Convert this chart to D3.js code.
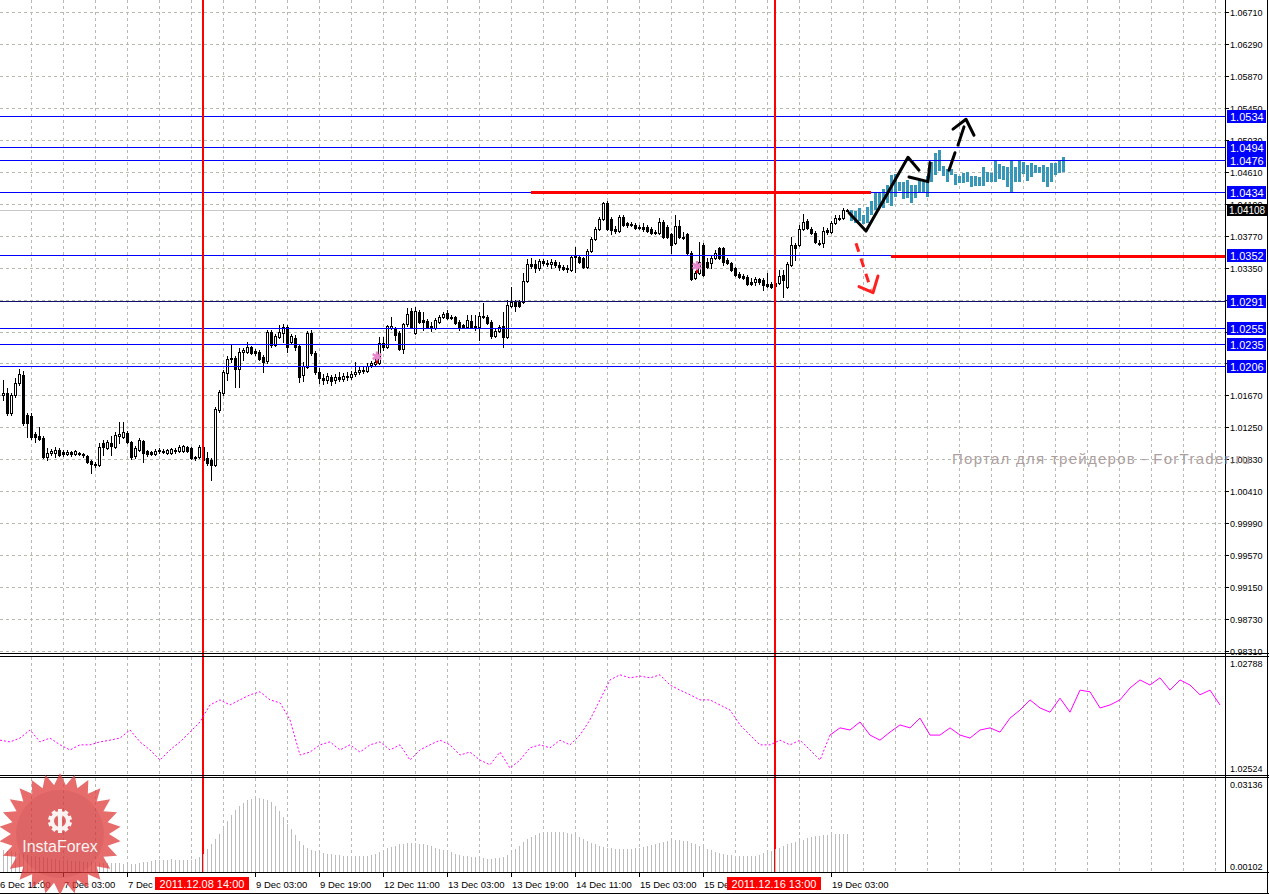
<!DOCTYPE html>
<html><head><meta charset="utf-8">
<script src="https://cdn.jsdelivr.net/npm/d3@7"></script>
<style>body{margin:0;background:#fff;overflow:hidden}svg{display:block}text{font-family:"Liberation Sans",Arial,sans-serif}</style>
</head><body><svg id="c" width="1269" height="894"></svg>
<script>
// ---------------- DATA ----------------
// H1 candles, bar 0 = 6 Dec 12:00
const open = [1.0168,1.0170,1.0144,1.0168,1.0183,1.0194,1.0141,1.0140,1.0116,1.0114,
1.0111,1.0086,1.0091,1.0091,1.0095,1.0093,1.0090,1.0093,1.0090,1.0091,
1.0090,1.0087,1.0081,1.0077,1.0076,1.0105,1.0098,1.0105,1.0099,1.0114,
1.0112,1.0118,1.0106,1.0087,1.0095,1.0107,1.0094,1.0093,1.0090,1.0094,
1.0094,1.0091,1.0091,1.0095,1.0094,1.0094,1.0099,1.0098,1.0085,1.0086,
1.0099,1.0085,1.0082,1.0076,1.0148,1.0170,1.0197,1.0215,1.0216,1.0202,
1.0224,1.0224,1.0231,1.0225,1.0224,1.0218,1.0212,1.0250,1.0233,1.0244,
1.0249,1.0257,1.0237,1.0243,1.0232,1.0194,1.0204,1.0249,1.0223,1.0198,
1.0190,1.0187,1.0191,1.0187,1.0191,1.0189,1.0193,1.0191,1.0195,1.0198,
1.0200,1.0199,1.0207,1.0208,1.0210,1.0236,1.0231,1.0256,1.0256,1.0249,
1.0228,1.0261,1.0278,1.0249,1.0277,1.0266,1.0265,1.0258,1.0256,1.0264,
1.0270,1.0275,1.0270,1.0270,1.0264,1.0259,1.0257,1.0265,1.0257,1.0257,
1.0271,1.0270,1.0264,1.0245,1.0252,1.0258,1.0244,1.0285,1.0290,1.0290,
1.0290,1.0317,1.0340,1.0340,1.0335,1.0344,1.0341,1.0340,1.0342,1.0338,
1.0336,1.0335,1.0332,1.0349,1.0349,1.0348,1.0336,1.0357,1.0373,1.0386,
1.0399,1.0420,1.0399,1.0386,1.0383,1.0402,1.0394,1.0392,1.0391,1.0388,
1.0388,1.0388,1.0386,1.0382,1.0381,1.0395,1.0388,1.0379,1.0367,1.0390,
1.0375,1.0379,1.0354,1.0321,1.0328,1.0365,1.0342,1.0341,1.0348,1.0361,
1.0361,1.0345,1.0341,1.0335,1.0327,1.0324,1.0323,1.0316,1.0316,1.0320,
1.0319,1.0313,1.0313,1.0315,1.0315,1.0325,1.0310,1.0338,1.0365,1.0365,
1.0386,1.0396,1.0386,1.0381,1.0367,1.0367,1.0384,1.0382,1.0394,1.0400,
1.0400,1.0410];
const high = [1.0187,1.0177,1.0170,1.0190,1.0202,1.0199,1.0144,1.0144,1.0119,1.0126,
1.0114,1.0098,1.0097,1.0099,1.0098,1.0095,1.0095,1.0094,1.0095,1.0093,
1.0091,1.0089,1.0082,1.0080,1.0105,1.0108,1.0108,1.0114,1.0119,1.0132,
1.0132,1.0120,1.0107,1.0101,1.0111,1.0108,1.0095,1.0094,1.0097,1.0098,
1.0097,1.0097,1.0098,1.0098,1.0102,1.0102,1.0101,1.0099,1.0087,1.0102,
1.0102,1.0093,1.0085,1.0152,1.0174,1.0200,1.0219,1.0233,1.0219,1.0229,
1.0229,1.0237,1.0232,1.0228,1.0227,1.0220,1.0253,1.0253,1.0248,1.0260,
1.0261,1.0260,1.0248,1.0247,1.0233,1.0211,1.0252,1.0253,1.0225,1.0203,
1.0195,1.0197,1.0194,1.0195,1.0198,1.0197,1.0198,1.0199,1.0211,1.0206,
1.0206,1.0210,1.0212,1.0216,1.0244,1.0244,1.0260,1.0270,1.0257,1.0252,
1.0262,1.0282,1.0282,1.0283,1.0279,1.0277,1.0267,1.0264,1.0269,1.0273,
1.0277,1.0279,1.0273,1.0271,1.0266,1.0261,1.0273,1.0273,1.0273,1.0277,
1.0289,1.0273,1.0266,1.0254,1.0259,1.0277,1.0292,1.0310,1.0292,1.0292,
1.0328,1.0346,1.0348,1.0345,1.0346,1.0346,1.0345,1.0346,1.0345,1.0342,
1.0338,1.0338,1.0352,1.0362,1.0352,1.0349,1.0360,1.0375,1.0388,1.0402,
1.0421,1.0423,1.0402,1.0390,1.0404,1.0404,1.0395,1.0395,1.0394,1.0391,
1.0394,1.0391,1.0388,1.0385,1.0400,1.0398,1.0391,1.0381,1.0404,1.0398,
1.0382,1.0381,1.0357,1.0331,1.0369,1.0367,1.0348,1.0352,1.0358,1.0362,
1.0362,1.0348,1.0342,1.0336,1.0329,1.0327,1.0325,1.0321,1.0323,1.0321,
1.0321,1.0328,1.0316,1.0319,1.0332,1.0332,1.0342,1.0375,1.0367,1.0391,
1.0406,1.0399,1.0388,1.0383,1.0371,1.0388,1.0387,1.0396,1.0404,1.0404,
1.0413,1.0412];
const low = [1.0161,1.0141,1.0141,1.0165,1.0181,1.0128,1.0112,1.0110,1.0106,1.0108,
1.0085,1.0082,1.0089,1.0086,1.0087,1.0087,1.0089,1.0087,1.0089,1.0089,
1.0086,1.0078,1.0065,1.0073,1.0074,1.0089,1.0097,1.0089,1.0098,1.0105,
1.0111,1.0105,1.0083,1.0085,1.0094,1.0080,1.0087,1.0089,1.0089,1.0091,
1.0091,1.0090,1.0090,1.0091,1.0093,1.0093,1.0093,1.0083,1.0082,1.0085,
1.0080,1.0076,1.0056,1.0074,1.0145,1.0168,1.0187,1.0211,1.0178,1.0178,
1.0214,1.0223,1.0221,1.0220,1.0214,1.0198,1.0210,1.0231,1.0232,1.0243,
1.0237,1.0224,1.0236,1.0227,1.0185,1.0186,1.0203,1.0220,1.0195,1.0183,
1.0182,1.0183,1.0181,1.0183,1.0186,1.0186,1.0187,1.0189,1.0193,1.0195,
1.0197,1.0198,1.0204,1.0206,1.0208,1.0227,1.0229,1.0254,1.0240,1.0227,
1.0223,1.0258,1.0256,1.0248,1.0262,1.0253,1.0256,1.0252,1.0254,1.0262,
1.0269,1.0267,1.0267,1.0261,1.0253,1.0256,1.0256,1.0256,1.0253,1.0240,
1.0269,1.0261,1.0243,1.0244,1.0250,1.0231,1.0243,1.0283,1.0278,1.0283,
1.0289,1.0316,1.0335,1.0329,1.0332,1.0338,1.0337,1.0335,1.0336,1.0332,
1.0332,1.0329,1.0331,1.0329,1.0341,1.0335,1.0335,1.0356,1.0371,1.0385,
1.0398,1.0385,1.0379,1.0381,1.0382,1.0390,1.0388,1.0390,1.0386,1.0386,
1.0383,1.0382,1.0379,1.0379,1.0379,1.0374,1.0374,1.0354,1.0366,1.0374,
1.0373,1.0353,1.0319,1.0320,1.0327,1.0324,1.0335,1.0335,1.0346,1.0346,
1.0338,1.0340,1.0331,1.0324,1.0321,1.0320,1.0312,1.0312,1.0312,1.0313,
1.0306,1.0310,1.0308,1.0308,1.0313,1.0296,1.0308,1.0337,1.0345,1.0363,
1.0385,1.0386,1.0379,1.0367,1.0365,1.0362,1.0379,1.0381,1.0392,1.0398,
1.0399,1.0409];
const close = [1.0170,1.0144,1.0168,1.0183,1.0195,1.0131,1.0131,1.0112,1.0112,1.0110,
1.0086,1.0091,1.0094,1.0095,1.0089,1.0090,1.0093,1.0090,1.0094,1.0090,
1.0089,1.0080,1.0077,1.0076,1.0099,1.0099,1.0106,1.0101,1.0115,1.0116,
1.0119,1.0106,1.0086,1.0098,1.0108,1.0091,1.0090,1.0090,1.0094,1.0095,
1.0093,1.0095,1.0097,1.0094,1.0099,1.0101,1.0094,1.0085,1.0086,1.0099,
1.0082,1.0078,1.0076,1.0149,1.0172,1.0198,1.0215,1.0216,1.0202,1.0224,
1.0227,1.0231,1.0223,1.0223,1.0215,1.0211,1.0250,1.0233,1.0245,1.0250,
1.0257,1.0231,1.0245,1.0231,1.0191,1.0206,1.0249,1.0223,1.0198,1.0190,
1.0187,1.0193,1.0186,1.0191,1.0189,1.0193,1.0191,1.0195,1.0198,1.0200,
1.0199,1.0206,1.0210,1.0211,1.0236,1.0231,1.0258,1.0258,1.0247,1.0228,
1.0261,1.0274,1.0257,1.0278,1.0264,1.0264,1.0257,1.0256,1.0266,1.0270,
1.0274,1.0269,1.0269,1.0262,1.0257,1.0257,1.0266,1.0257,1.0258,1.0271,
1.0270,1.0262,1.0245,1.0252,1.0257,1.0244,1.0286,1.0290,1.0285,1.0285,
1.0317,1.0340,1.0337,1.0335,1.0344,1.0341,1.0340,1.0342,1.0338,1.0336,
1.0333,1.0333,1.0349,1.0350,1.0342,1.0336,1.0357,1.0373,1.0386,1.0399,
1.0420,1.0386,1.0385,1.0383,1.0402,1.0391,1.0391,1.0391,1.0387,1.0387,
1.0386,1.0383,1.0381,1.0381,1.0395,1.0375,1.0375,1.0365,1.0390,1.0375,
1.0374,1.0354,1.0320,1.0328,1.0342,1.0325,1.0336,1.0348,1.0354,1.0348,
1.0342,1.0341,1.0332,1.0325,1.0323,1.0321,1.0313,1.0313,1.0320,1.0316,
1.0312,1.0311,1.0310,1.0311,1.0324,1.0319,1.0340,1.0365,1.0361,1.0386,
1.0395,1.0387,1.0381,1.0369,1.0366,1.0383,1.0382,1.0394,1.0400,1.0399,
1.0411,1.0411];

// projected (forecast) bars, first one at bar 212
const forecastStart = 212;
const fcHigh = [1.0411,1.0409,1.0413,1.0404,1.0415,1.0422,1.0434,1.0433,1.0438,1.0444,
1.0457,1.0458,1.0448,1.0448,1.0450,1.0444,1.0444,1.0450,1.0447,1.0456,
1.0474,1.0485,1.0489,1.0468,1.0465,1.0464,1.0458,1.0455,1.0460,1.0461,
1.0455,1.0455,1.0454,1.0467,1.0461,1.0460,1.0475,1.0471,1.0468,1.0467,
1.0475,1.0467,1.0477,1.0474,1.0470,1.0473,1.0470,1.0467,1.0470,1.0467,
1.0473,1.0473,1.0475,1.0481];
const fcLow = [1.0396,1.0394,1.0396,1.0392,1.0393,1.0404,1.0411,1.0413,1.0413,1.0420,
1.0416,1.0428,1.0436,1.0425,1.0427,1.0420,1.0426,1.0433,1.0435,1.0428,
1.0448,1.0457,1.0462,1.0455,1.0447,1.0457,1.0444,1.0446,1.0446,1.0448,
1.0441,1.0442,1.0442,1.0442,1.0447,1.0447,1.0448,1.0451,1.0450,1.0441,
1.0435,1.0447,1.0448,1.0458,1.0449,1.0454,1.0460,1.0459,1.0447,1.0441,
1.0448,1.0457,1.0460,1.0461];

// horizontal support / resistance levels
const levels = [1.0534,1.0494,1.0476,1.0434,1.0352,1.0291,1.0255,1.0235,1.0206];
const bidPrice = 1.04108;
const priceTicks = ["1.06710","1.06290","1.05870","1.05450","1.05030","1.04610","1.04190","1.03770","1.03350","1.02930","1.02510","1.02090","1.01670","1.01250","1.00830","1.00410","0.99990","0.99570","0.99150","0.98730","0.98310"];

// time axis
const timeIdx = [-1,15,31,63,79,95,111,127,143,159,175,207];
const timeText = ["6 Dec 11:00","7 Dec 03:00","7 Dec 19:00","9 Dec 03:00","9 Dec 19:00","12 Dec 11:00","13 Dec 03:00","13 Dec 19:00","14 Dec 11:00","15 Dec 03:00","15 Dec 19:00","19 Dec 03:00"];
const markIdx = [50,193];
const markText = ["2011.12.08 14:00","2011.12.16 13:00"];

// indicator window 1 (magenta line), sampled every 2.5 bars from bar -0.75
const ind1Start = -0.75, ind1Step = 2.5, ind1SolidFrom = 83;
const ind1 = [1.02599,1.02595,1.02604,1.02623,1.02595,1.02604,1.02588,1.02576,1.02588,1.02588,
1.02595,1.02599,1.02604,1.02623,1.02595,1.02576,1.02552,1.02576,1.02595,1.02618,
1.02642,1.02682,1.02694,1.02682,1.02694,1.02706,1.02713,1.02694,1.02687,1.02647,
1.02564,1.02571,1.02588,1.02595,1.02576,1.02588,1.02571,1.02588,1.02595,1.02576,
1.02588,1.02552,1.02576,1.02588,1.02599,1.02588,1.02564,1.02571,1.02552,1.02541,
1.02571,1.02533,1.02552,1.02581,1.02588,1.02581,1.02599,1.02588,1.02611,1.02647,
1.02694,1.02741,1.02753,1.02746,1.02750,1.02746,1.02753,1.02729,1.02717,1.02706,
1.02694,1.02694,1.02682,1.02670,1.02635,1.02611,1.02588,1.02588,1.02599,1.02588,
1.02599,1.02576,1.02552,1.02611,1.02628,1.02623,1.02642,1.02611,1.02599,1.02618,
1.02635,1.02628,1.02651,1.02611,1.02611,1.02628,1.02611,1.02604,1.02623,1.02628,
1.02618,1.02651,1.02670,1.02694,1.02675,1.02665,1.02698,1.02665,1.02717,1.02713,
1.02675,1.02682,1.02694,1.02722,1.02741,1.02729,1.02746,1.02717,1.02741,1.02729,
1.02706,1.02717,1.02682];

// indicator window 2 (histogram), one value per bar
const ind2 = [0.0082,0.0080,0.0078,0.0075,0.0072,0.0070,0.0066,0.0064,0.0062,0.0060,
0.0058,0.0056,0.0054,0.0052,0.0050,0.0049,0.0048,0.0047,0.0046,0.0045,
0.0044,0.0043,0.0042,0.0041,0.0040,0.0040,0.0039,0.0039,0.0038,0.0038,
0.0037,0.0037,0.0037,0.0036,0.0040,0.0042,0.0044,0.0046,0.0048,0.0049,
0.0050,0.0050,0.0051,0.0050,0.0049,0.0048,0.0049,0.0050,0.0052,0.0058,
0.0070,0.0085,0.0100,0.0118,0.0135,0.0155,0.0175,0.0195,0.0212,0.0225,
0.0236,0.0244,0.0249,0.0251,0.0251,0.0249,0.0246,0.0238,0.0225,0.0208,
0.0188,0.0168,0.0150,0.0130,0.0112,0.0098,0.0088,0.0082,0.0078,0.0075,
0.0072,0.0070,0.0068,0.0066,0.0065,0.0064,0.0063,0.0063,0.0062,0.0062,
0.0062,0.0063,0.0065,0.0068,0.0075,0.0082,0.0088,0.0092,0.0096,0.0100,
0.0102,0.0104,0.0105,0.0104,0.0102,0.0100,0.0097,0.0094,0.0090,0.0086,
0.0082,0.0078,0.0074,0.0070,0.0067,0.0064,0.0062,0.0060,0.0058,0.0056,
0.0055,0.0054,0.0054,0.0055,0.0057,0.0060,0.0066,0.0075,0.0085,0.0096,
0.0108,0.0118,0.0126,0.0132,0.0136,0.0139,0.0141,0.0142,0.0142,0.0141,
0.0140,0.0138,0.0135,0.0130,0.0124,0.0118,0.0112,0.0106,0.0100,0.0096,
0.0092,0.0089,0.0087,0.0085,0.0084,0.0084,0.0085,0.0086,0.0088,0.0090,
0.0092,0.0095,0.0098,0.0101,0.0104,0.0107,0.0110,0.0112,0.0113,0.0113,
0.0112,0.0110,0.0106,0.0101,0.0096,0.0091,0.0086,0.0081,0.0077,0.0073,
0.0070,0.0067,0.0065,0.0063,0.0062,0.0061,0.0061,0.0062,0.0064,0.0067,
0.0071,0.0075,0.0080,0.0085,0.0090,0.0095,0.0100,0.0104,0.0108,0.0112,
0.0116,0.0120,0.0124,0.0127,0.0129,0.0131,0.0132,0.0133,0.0133,0.0134,
0.0134,0.0134];
const ind1Labels = ["1.02788","1.02524"];
const ind2Labels = ["0.03136","0.00102"];

// drawn objects [bar, price]
const redSegments = [{from:132, to:217, price:1.0435},{from:222, to:306, price:1.0350}];
const blackPath1 = [[211.5,1.0407],[215.75,1.0383],[226.25,1.0480],[229,1.0463]];
const blackPath2 = [[226.5,1.0454],[231.25,1.0448],[231.75,1.0473]];
const blackDash = [[[236.5,1.0463],[238,1.0486]],[[238.75,1.0496],[240.25,1.0520]]];
const blackHead = [[237.5,1.0517],[240.75,1.0530],[242.75,1.0509]];
const redDash = [[213.25,1.0367],[217,1.0306]];
const redHead = [[214,1.0310],[217.5,1.0302],[218.75,1.0324]];
const stars = [[93.5,1.0218],[173.5,1.0337]];
const watermark = "Портал для трейдеров - ForTrader.ru";

// ---------------- DRAW ----------------
const svg = d3.select("#c");
const AX = 1225;               // price axis line
const x = d3.scaleLinear().domain([0,1]).range([3,7]);
const y = d3.scaleLinear().domain([0.98310,1.06710]).range([651,12]);
const y1 = d3.scaleLinear().domain([1.02524,1.02788]).range([772,660]);
const y2 = d3.scaleLinear().domain([0.00102,0.03136]).range([872,779]);
const px = v => Math.round(v) + 0.5;

const defs = svg.append("defs");
defs.append("clipPath").attr("id","cm").append("rect").attr("x",0).attr("y",0).attr("width",AX).attr("height",653);
defs.append("clipPath").attr("id","c1").append("rect").attr("x",0).attr("y",657).attr("width",AX).attr("height",118);
defs.append("clipPath").attr("id","c2").append("rect").attr("x",0).attr("y",778).attr("width",AX).attr("height",94);

svg.append("rect").attr("width",1269).attr("height",894).attr("fill","#fff");

const gridCol = "#b4bcb0";
// vertical grid, every 8 bars
const vGrid = d3.range(-1, 306, 8);
[["cm",0,653],["c1",657,775],["c2",778,872]].forEach(([cp,a,b])=>{
  svg.append("g").attr("clip-path",`url(#${cp})`).selectAll("line").data(vGrid).join("line")
    .attr("x1",d=>px(x(d))).attr("x2",d=>px(x(d))).attr("y1",a).attr("y2",b)
    .attr("stroke",gridCol).attr("stroke-dasharray","3,3");
});
// horizontal grid
svg.append("g").attr("clip-path","url(#cm)").selectAll("line").data(priceTicks).join("line")
  .attr("x1",0).attr("x2",AX).attr("y1",d=>px(y(+d))).attr("y2",d=>px(y(+d)))
  .attr("stroke",gridCol).attr("stroke-dasharray","3,3");
// bid line
svg.append("line").attr("x1",0).attr("x2",AX).attr("y1",px(y(bidPrice))).attr("y2",px(y(bidPrice)))
  .attr("stroke","#c8c8c8");

// candles
const gC = svg.append("g").attr("clip-path","url(#cm)");
const bars = open.map((o,i)=>({i,o,h:high[i],l:low[i],c:close[i]}));
gC.selectAll("line.w").data(bars).join("line").attr("class","w")
  .attr("x1",d=>Math.round(x(d.i))+0.5).attr("x2",d=>Math.round(x(d.i))+0.5)
  .attr("y1",d=>Math.round(y(d.h))).attr("y2",d=>Math.round(y(d.l))+1).attr("stroke","#000");
gC.selectAll("rect.b").data(bars).join("rect").attr("class","b")
  .attr("x",d=>Math.round(x(d.i))-1)
  .attr("y",d=>Math.round(y(Math.max(d.o,d.c))))
  .attr("width",3)
  .attr("height",d=>Math.max(1,Math.round(y(Math.min(d.o,d.c)))-Math.round(y(Math.max(d.o,d.c)))+1))
  .attr("fill","#000");
gC.selectAll("rect.wb").data(bars.filter(d=>d.c>d.o && Math.round(y(d.o))-Math.round(y(d.c))>=2)).join("rect").attr("class","wb")
  .attr("x",d=>Math.round(x(d.i)))
  .attr("y",d=>Math.round(y(d.c))+1)
  .attr("width",1)
  .attr("height",d=>Math.round(y(d.o))-Math.round(y(d.c))-1)
  .attr("fill","#fff");

// forecast bars
gC.selectAll("rect.f").data(fcHigh.map((h,j)=>({i:forecastStart+j,h,l:fcLow[j]}))).join("rect").attr("class","f")
  .attr("x",d=>Math.round(x(d.i))-1).attr("width",3)
  .attr("y",d=>Math.round(y(d.h))).attr("height",d=>Math.round(y(d.l))-Math.round(y(d.h)))
  .attr("fill","#3897b8");

// horizontal levels
const gL = svg.append("g").attr("clip-path","url(#cm)");
gL.selectAll("line").data(levels).join("line")
  .attr("x1",0).attr("x2",AX).attr("y1",d=>px(y(d))).attr("y2",d=>px(y(d)))
  .attr("stroke",d=>d===1.0291?"#10106a":"#0000ff");

// red segments
gL.selectAll("rect.rs").data(redSegments).join("rect").attr("class","rs")
  .attr("x",d=>x(d.from)).attr("width",d=>x(d.to)-x(d.from))
  .attr("y",d=>Math.round(y(d.price))-1).attr("height",3).attr("fill","#f00");

// vertical red lines (2px wide)
svg.append("g").selectAll("rect").data(markIdx).join("rect")
  .attr("x",d=>Math.round(x(d))-1).attr("width",2).attr("y",0).attr("height",873)
  .attr("fill","#ff0000");

// drawn arrows
const ln = d3.line().x(d=>x(d[0])).y(d=>y(d[1]));
const gA = svg.append("g").attr("clip-path","url(#cm)").attr("fill","none").attr("stroke-linejoin","round").attr("stroke-linecap","round");
[blackPath1,blackPath2,blackHead].forEach(p=>gA.append("path").attr("d",ln(p)).attr("stroke","#000").attr("stroke-width",3));
blackDash.forEach(p=>gA.append("path").attr("d",ln(p)).attr("stroke","#000").attr("stroke-width",3));
gA.append("path").attr("d",ln(redDash)).attr("stroke","#f22").attr("stroke-width",3).attr("stroke-dasharray","9,7").attr("stroke-linecap","butt");
gA.append("path").attr("d",ln(redHead)).attr("stroke","#f22").attr("stroke-width",3);

// stars
const sym = d3.symbol().type(d3.symbolAsterisk).size(70);
svg.append("g").selectAll("path").data(stars).join("path")
  .attr("transform",d=>`translate(${x(d[0])},${y(d[1])})`).attr("d",sym)
  .attr("stroke","#e888cc").attr("stroke-width",2.5).attr("fill","none");
svg.append("g").selectAll("rect").data(stars).join("rect")
  .attr("x",d=>x(d[0])-1).attr("y",d=>y(d[1])+4).attr("width",2).attr("height",3).attr("fill","#c00");

// indicator 1
const g1 = svg.append("g").attr("clip-path","url(#c1)").attr("fill","none").attr("stroke","#ff00ff");
const pts1 = ind1.map((v,j)=>[ind1Start+j*ind1Step, v]);
const l1 = d3.line().x(d=>x(d[0])).y(d=>y1(d[1]));
g1.append("path").attr("d",l1(pts1.slice(0,ind1SolidFrom+1))).attr("stroke-dasharray","2,2");
g1.append("path").attr("d",l1(pts1.slice(ind1SolidFrom)));

// indicator 2
svg.append("g").attr("clip-path","url(#c2)").selectAll("line").data(ind2).join("line")
  .attr("x1",(d,i)=>px(x(i))).attr("x2",(d,i)=>px(x(i))).attr("y1",d=>Math.round(y2(d))).attr("y2",872)
  .attr("stroke","#bcbcbc");

// frames
const fr = svg.append("g").attr("stroke","#000");
fr.append("line").attr("x1",AX+0.5).attr("x2",AX+0.5).attr("y1",0).attr("y2",873);
[653.5,656.5,775.5,777.5,872.5,893.5].forEach(v=>fr.append("line").attr("x1",0).attr("x2",1269).attr("y1",v).attr("y2",v));
fr.append("line").attr("x1",1267.5).attr("x2",1267.5).attr("y1",0).attr("y2",894);

// price axis labels (labels fully covered by a level box are not printed, as in the terminal)
const gP = svg.append("g");
gP.selectAll("line").data(priceTicks).join("line")
  .attr("x1",AX).attr("x2",AX+4).attr("y1",d=>px(y(+d))).attr("y2",d=>px(y(+d))).attr("stroke","#000");
const shownTicks = priceTicks.filter(t=>levels.every(l=>Math.abs(y(+t)-y(l))>=5));
gP.selectAll("text").data(shownTicks).join("text")
  .attr("x",1230).attr("y",d=>Math.round(y(+d))+4).attr("font-size",9).text(d=>d);
// level labels
const gLL = svg.append("g");
gLL.selectAll("rect").data(levels).join("rect")
  .attr("x",1227).attr("y",d=>Math.round(y(d))-6).attr("width",39).attr("height",13).attr("fill","#0000ff");
gLL.selectAll("text").data(levels).join("text")
  .attr("x",1230).attr("y",d=>Math.round(y(d))+4.5).attr("font-size",11).attr("fill","#fff").text(d=>d.toFixed(4));
gLL.append("rect").attr("x",1227).attr("y",Math.round(y(bidPrice))-6).attr("width",40).attr("height",12).attr("fill","#000");
gLL.append("text").attr("x",1229).attr("y",Math.round(y(bidPrice))+4).attr("font-size",10).attr("fill","#fff").text(bidPrice.toFixed(5));
// indicator labels
svg.append("text").attr("x",1230).attr("y",667).attr("font-size",9).text(ind1Labels[0]);
svg.append("text").attr("x",1230).attr("y",772).attr("font-size",9).text(ind1Labels[1]);
svg.append("text").attr("x",1230).attr("y",788).attr("font-size",9).text(ind2Labels[0]);
svg.append("text").attr("x",1230).attr("y",870).attr("font-size",9).text(ind2Labels[1]);

// time axis
const gT = svg.append("g");
gT.selectAll("line").data(timeIdx).join("line")
  .attr("x1",d=>px(x(d))).attr("x2",d=>px(x(d))).attr("y1",873).attr("y2",877).attr("stroke","#000");
gT.selectAll("text").data(timeIdx).join("text")
  .attr("x",d=>x(d)+1).attr("y",888).attr("font-size",9.5).text((d,i)=>timeText[i]);
const gM = svg.append("g");
gM.selectAll("rect").data(markIdx).join("rect")
  .attr("x",d=>x(d)-48).attr("y",877).attr("width",94).attr("height",13).attr("fill","#f00");
gM.selectAll("text").data(markIdx).join("text")
  .attr("x",d=>x(d)-1).attr("y",888).attr("font-size",11).attr("fill","#fff").attr("text-anchor","middle")
  .text((d,i)=>markText[i]);

// watermark
svg.append("text").attr("x",952).attr("y",464).attr("font-size",15).attr("fill","#ad9f9f")
  .attr("textLength",298).attr("lengthAdjust","spacing").text(watermark);

// logo (semi-transparent, labels show through)
const cx0=60, cy0=834, nPts=26;
const starPts = d3.range(nPts*2).map(j=>[j*Math.PI/nPts, j%2?49:61]);
const lg = svg.append("g").attr("transform",`translate(${cx0},${cy0})`);
const lgBg = lg.append("g").attr("opacity",0.75);
lgBg.append("path").attr("d",d3.lineRadial().curve(d3.curveLinearClosed)(starPts)).attr("fill","#e03c3c");
lgBg.append("circle").attr("r",44).attr("fill","#d43232");
const ic = lg.append("g").attr("transform","translate(0,-13)").attr("fill","#fff").attr("stroke","none").attr("opacity",0.92);
const teeth = d3.range(10).map(j=>[j*Math.PI/5, 10]);
ic.append("circle").attr("r",8).attr("fill","none").attr("stroke","#fff").attr("stroke-width",4);
ic.selectAll("rect").data(teeth).join("rect").attr("x",-2).attr("y",-12).attr("width",4).attr("height",4)
  .attr("transform",d=>`rotate(${d[0]*180/Math.PI})`);
ic.append("rect").attr("x",-2).attr("y",-3).attr("width",4).attr("height",14);
ic.append("circle").attr("cy",-5).attr("r",2.5);
lg.append("text").attr("y",18).attr("text-anchor","middle").attr("font-size",16).attr("fill","#fff").attr("opacity",0.92).text("InstaForex");
</script></body></html>
